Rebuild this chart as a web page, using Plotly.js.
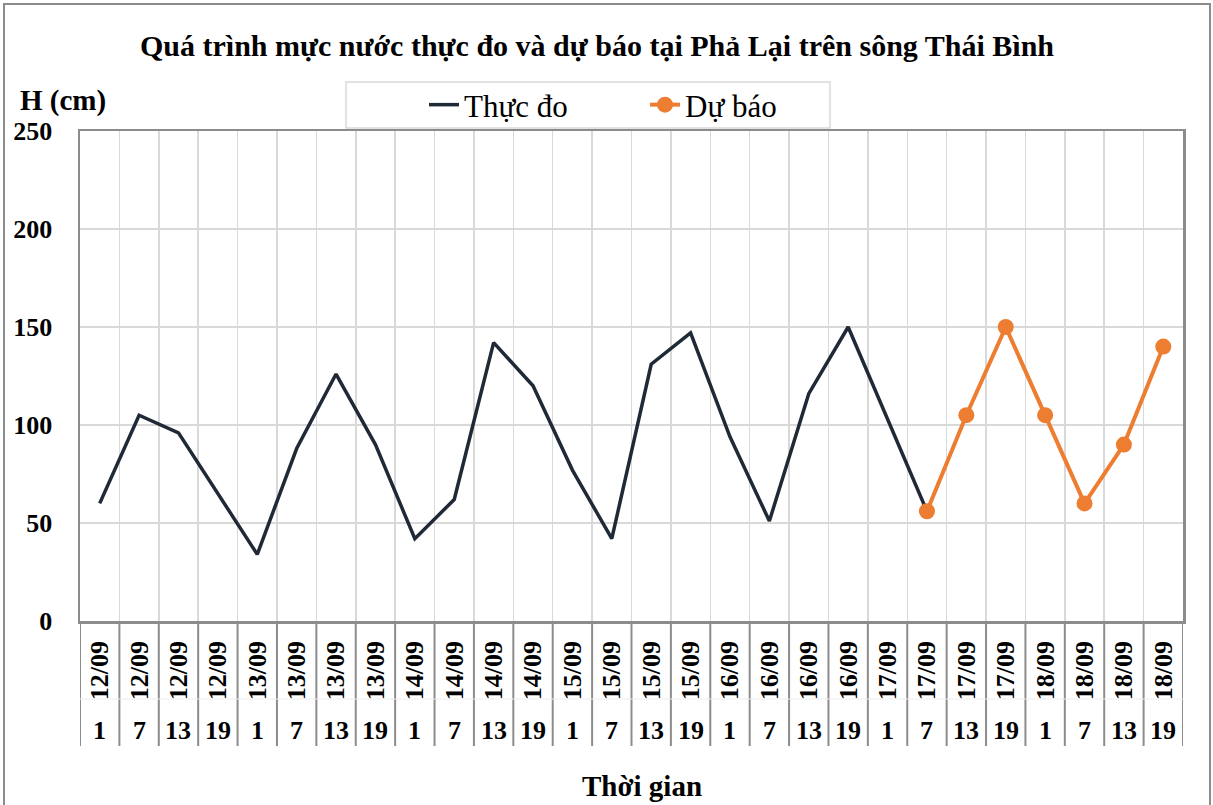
<!DOCTYPE html>
<html>
<head>
<meta charset="utf-8">
<script src="https://cdn.plot.ly/plotly-3.0.1.min.js"></script>
<style>html,body{margin:0;padding:0;background:#fff;}#chart{width:1213px;height:805px;}</style>
</head>
<body>
<div id="chart"></div>
<script>
// ---- data ----
const dates = ['12/09','12/09','12/09','12/09','13/09','13/09','13/09','13/09',
  '14/09','14/09','14/09','14/09','15/09','15/09','15/09','15/09',
  '16/09','16/09','16/09','16/09','17/09','17/09','17/09','17/09',
  '18/09','18/09','18/09','18/09'];
const hours = ['1','7','13','19','1','7','13','19','1','7','13','19','1','7','13','19',
  '1','7','13','19','1','7','13','19','1','7','13','19'];
const observed = [60,105,96,65,34,88,126,90,42,62,142,120,77,42,131,147,94,51,116,150,103,56];
const forecast = [56,105,150,105,60,90,140];
const forecastStart = 21;
const titleText = 'Quá trình mực nước thực đo và dự báo tại Phả Lại trên sông Thái Bình';
const yTitle = 'H (cm)';
const xTitle = 'Thời gian';
const nameObs = 'Thực đo';
const nameFc = 'Dự báo';

// ---- build ----
const keys = dates.map((d,i)=>d+' '+hours[i]);
const FONT = '"Times New Roman", "Liberation Serif", serif';

const traces = [
  {x: keys.slice(0, observed.length), y: observed, name: nameObs, type:'scatter', mode:'lines',
   line:{color:'#1f2a36', width:3.5}},
  {x: keys.slice(forecastStart, forecastStart+forecast.length), y: forecast, name: nameFc, type:'scatter', mode:'lines+markers',
   line:{color:'#ED7D31', width:4}, marker:{color:'#ED7D31', size:16}}
];

const L=80, R=1183, T=131, B=621, W=1213, H=805;
const pw=R-L, ph=B-T;
const px=(p)=>(p-L)/pw, py=(p)=>(B-p)/ph;

const shapes=[];
for(let i=0;i<=keys.length;i++){
  shapes.push({type:'line', xref:'x', yref:'paper', x0:i-0.5, x1:i-0.5, y0:0, y1:py(746),
    line:{color:'#8c8c8c', width:2}});
}
shapes.push({type:'line', xref:'paper', yref:'paper', x0:0, x1:1, y0:py(699), y1:py(699), line:{color:'#ececec', width:1}});
shapes.push({type:'rect', xref:'paper', yref:'paper', x0:px(346), x1:px(830), y0:py(82), y1:py(128), line:{color:'#d9d9d9', width:1.5}});
shapes.push({type:'rect', xref:'paper', yref:'paper', x0:px(4), x1:px(1210), y0:py(4), y1:py(830), line:{color:'#8c8c8c', width:2}});

const annotations = hours.map((h,i)=>({x:i, xref:'x', y:py(730), yref:'paper', text:h, showarrow:false,
  xanchor:'center', yanchor:'middle', font:{family:FONT, size:26, color:'#000', weight:'bold'}}));
annotations.push({x:px(18), y:py(101), xref:'paper', yref:'paper', text:yTitle, showarrow:false, xanchor:'left', yanchor:'middle',
  font:{family:FONT, size:29, color:'#000', weight:'bold'}});
annotations.push({x:px(642), y:py(786), xref:'paper', yref:'paper', text:xTitle, showarrow:false, xanchor:'center', yanchor:'middle',
  font:{family:FONT, size:29, color:'#000', weight:'bold'}});

const layout = {
  width:W, height:H,
  margin:{l:L, r:W-R, t:T, b:H-B, pad:0},
  paper_bgcolor:'#fff', plot_bgcolor:'#fff',
  title:{text:titleText, x:597/W, xanchor:'center', y:1-45/H, yanchor:'middle', yref:'container', xref:'container',
    font:{family:FONT, size:30, color:'#000', weight:'bold'}},
  showlegend:true,
  legend:{orientation:'h', x:px(424), y:py(105), xanchor:'left', yanchor:'middle', bgcolor:'rgba(0,0,0,0)', borderwidth:0,
    font:{family:FONT, size:31, color:'#000'}, entrywidth:176, entrywidthmode:'pixels', traceorder:'normal'},
  xaxis:{type:'category', categoryorder:'array', categoryarray:keys, tickmode:'array', tickvals:keys,
    ticktext:dates.map(d=>'<b>'+d+'</b>'),
    tickangle:-90, tickson:'boundaries', ticks:'', showgrid:true, gridcolor:'#d9d9d9', gridwidth:1.5,
    range:[-0.5, keys.length-0.5], showline:true, mirror:true, linecolor:'#8c8c8c', linewidth:2.5,
    tickfont:{family:FONT, size:26, color:'#000', weight:'bold'}, ticklabelstandoff:7, zeroline:false, fixedrange:true},
  yaxis:{range:[0,250], dtick:50, tick0:0, showgrid:true, gridcolor:'#d9d9d9', gridwidth:1.5, zeroline:false,
    showline:true, mirror:true, linecolor:'#8c8c8c', linewidth:2.5, ticks:'',
    tickfont:{family:FONT, size:26, color:'#000', weight:'bold'}, ticklabelstandoff:20, fixedrange:true},
  shapes:shapes, annotations:annotations
};

Plotly.newPlot('chart', traces, layout, {displayModeBar:false, staticPlot:true});
</script>
</body>
</html>
